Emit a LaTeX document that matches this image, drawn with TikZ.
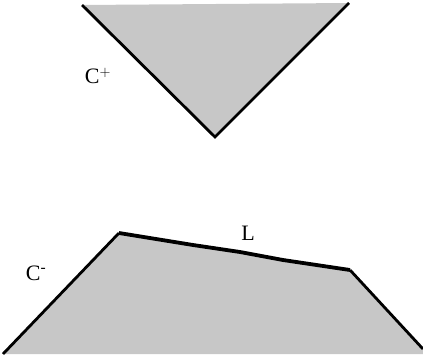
\documentclass[tikz,border=0pt]{standalone}
\usepackage{fontspec}
\setmainfont{Liberation Serif}
\begin{document}
\begin{tikzpicture}[x=1pt,y=1pt,
  region/.style={fill=black!22},
  edge/.style={line width=2.8pt,line join=miter},
  lbl/.style={font=\fontsize{22}{25}\selectfont,inner sep=0pt}]
\useasboundingbox (0,0) rectangle (423,-354);
% upper cone C+
\coordinate (ul) at (82,-5);
\coordinate (uv) at (215,-137);
\coordinate (ur) at (349,-3);
\fill[region] (ul) -- (uv) -- (ur) -- cycle;
\draw[edge] (ul) -- (uv) -- (ur);
% lower region C-
\coordinate (bl) at (3,-354);
\coordinate (lc) at (119,-233);
\coordinate (rc) at (350,-270);
\coordinate (br) at (423,-349);
\fill[region] (bl) -- (lc) -- (rc) -- (br) -- (423,-354) -- cycle;
\draw[edge] (bl) -- (lc);
\draw[edge] (rc) -- (br);
\draw[line width=3.8pt,line join=round] (lc) -- (193,-245) -- (240,-252) -- (283,-260) -- (rc);
% labels
\node[lbl] (cplus) at (98,-76) {C$^{+}$};
\node[lbl] (cminus) at (36,-273) {C\textsuperscript{-}};
\node[lbl] (ell) at (248,-233) {L};
\end{tikzpicture}
\end{document}
